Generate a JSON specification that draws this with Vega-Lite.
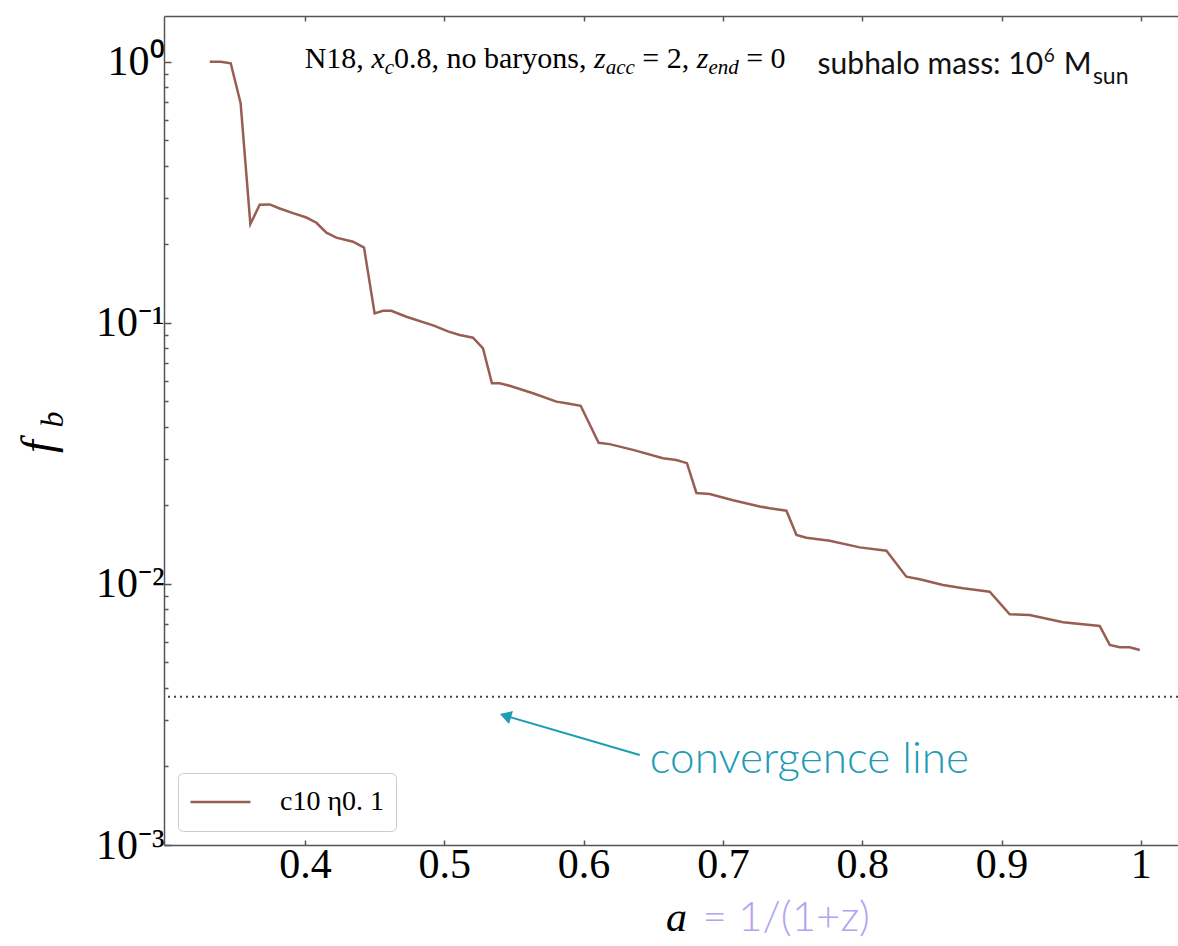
{
  "$schema": "https://vega.github.io/schema/vega-lite/v6.json",
  "width": 1014,
  "height": 829,
  "autosize": {"type": "none"},
  "padding": {"left": 164, "top": 16, "right": 0, "bottom": 101},
  "background": "white",
  "config": {
    "view": {"stroke": null},
    "axis": {
      "grid": false,
      "domainColor": "#555555",
      "tickColor": "#555555",
      "domainWidth": 1.5,
      "tickWidth": 1.5,
      "labelFont": "Liberation Serif",
      "labelColor": "black",
      "titleColor": "black",
      "labelFlush": false,
      "labelOverlap": false,
      "labelBound": false
    },
    "legend": {
      "orient": "bottom-left",
      "offset": 14,
      "padding": 11,
      "strokeColor": "#cccccc",
      "cornerRadius": 5,
      "fillColor": "white",
      "symbolType": "stroke",
      "symbolSize": 3600,
      "symbolStrokeWidth": 2.5,
      "clipHeight": 36,
      "labelFont": "Liberation Serif",
      "labelFontSize": 28,
      "labelOffset": 28,
      "labelColor": "black"
    }
  },
  "resolve": {"axis": {"x": "independent", "y": "independent"}},
  "layer": [
    {
      "data": {"values": [
        {"a": 0.3317, "f": 1.0, "series": "c10 η0. 1"},
        {"a": 0.3395, "f": 1.0, "series": "c10 η0. 1"},
        {"a": 0.3467, "f": 0.986, "series": "c10 η0. 1"},
        {"a": 0.3538, "f": 0.693, "series": "c10 η0. 1"},
        {"a": 0.3608, "f": 0.239, "series": "c10 η0. 1"},
        {"a": 0.3675, "f": 0.283, "series": "c10 η0. 1"},
        {"a": 0.3747, "f": 0.284, "series": "c10 η0. 1"},
        {"a": 0.3818, "f": 0.274, "series": "c10 η0. 1"},
        {"a": 0.3914, "f": 0.263, "series": "c10 η0. 1"},
        {"a": 0.401, "f": 0.253, "series": "c10 η0. 1"},
        {"a": 0.4082, "f": 0.2416, "series": "c10 η0. 1"},
        {"a": 0.4154, "f": 0.2214, "series": "c10 η0. 1"},
        {"a": 0.4225, "f": 0.2118, "series": "c10 η0. 1"},
        {"a": 0.4345, "f": 0.2045, "series": "c10 η0. 1"},
        {"a": 0.4424, "f": 0.194, "series": "c10 η0. 1"},
        {"a": 0.45, "f": 0.1087, "series": "c10 η0. 1"},
        {"a": 0.456, "f": 0.1112, "series": "c10 η0. 1"},
        {"a": 0.462, "f": 0.1112, "series": "c10 η0. 1"},
        {"a": 0.4728, "f": 0.1055, "series": "c10 η0. 1"},
        {"a": 0.4925, "f": 0.0975, "series": "c10 η0. 1"},
        {"a": 0.5031, "f": 0.0925, "series": "c10 η0. 1"},
        {"a": 0.5111, "f": 0.0898, "series": "c10 η0. 1"},
        {"a": 0.5206, "f": 0.0877, "series": "c10 η0. 1"},
        {"a": 0.5278, "f": 0.0798, "series": "c10 η0. 1"},
        {"a": 0.5342, "f": 0.0587, "series": "c10 η0. 1"},
        {"a": 0.5398, "f": 0.0587, "series": "c10 η0. 1"},
        {"a": 0.5469, "f": 0.0574, "series": "c10 η0. 1"},
        {"a": 0.5637, "f": 0.0537, "series": "c10 η0. 1"},
        {"a": 0.5805, "f": 0.0499, "series": "c10 η0. 1"},
        {"a": 0.5877, "f": 0.0492, "series": "c10 η0. 1"},
        {"a": 0.5979, "f": 0.0481, "series": "c10 η0. 1"},
        {"a": 0.6108, "f": 0.0347, "series": "c10 η0. 1"},
        {"a": 0.6187, "f": 0.0343, "series": "c10 η0. 1"},
        {"a": 0.6355, "f": 0.0326, "series": "c10 η0. 1"},
        {"a": 0.657, "f": 0.0303, "series": "c10 η0. 1"},
        {"a": 0.6666, "f": 0.0298, "series": "c10 η0. 1"},
        {"a": 0.6742, "f": 0.029, "series": "c10 η0. 1"},
        {"a": 0.681, "f": 0.0223, "series": "c10 η0. 1"},
        {"a": 0.6905, "f": 0.0221, "series": "c10 η0. 1"},
        {"a": 0.7073, "f": 0.0209, "series": "c10 η0. 1"},
        {"a": 0.7264, "f": 0.0198, "series": "c10 η0. 1"},
        {"a": 0.7336, "f": 0.01948, "series": "c10 η0. 1"},
        {"a": 0.7456, "f": 0.01907, "series": "c10 η0. 1"},
        {"a": 0.7528, "f": 0.01539, "series": "c10 η0. 1"},
        {"a": 0.76, "f": 0.01503, "series": "c10 η0. 1"},
        {"a": 0.7767, "f": 0.01464, "series": "c10 η0. 1"},
        {"a": 0.7982, "f": 0.0138, "series": "c10 η0. 1"},
        {"a": 0.8174, "f": 0.0134, "series": "c10 η0. 1"},
        {"a": 0.8317, "f": 0.01066, "series": "c10 η0. 1"},
        {"a": 0.8413, "f": 0.01041, "series": "c10 η0. 1"},
        {"a": 0.858, "f": 0.00991, "series": "c10 η0. 1"},
        {"a": 0.8724, "f": 0.00962, "series": "c10 η0. 1"},
        {"a": 0.8915, "f": 0.00934, "series": "c10 η0. 1"},
        {"a": 0.9059, "f": 0.00765, "series": "c10 η0. 1"},
        {"a": 0.9202, "f": 0.0076, "series": "c10 η0. 1"},
        {"a": 0.9442, "f": 0.00713, "series": "c10 η0. 1"},
        {"a": 0.9705, "f": 0.0069, "series": "c10 η0. 1"},
        {"a": 0.9777, "f": 0.00584, "series": "c10 η0. 1"},
        {"a": 0.9849, "f": 0.00572, "series": "c10 η0. 1"},
        {"a": 0.992, "f": 0.00572, "series": "c10 η0. 1"},
        {"a": 0.9992, "f": 0.00558, "series": "c10 η0. 1"}
      ]},
      "mark": {"type": "line", "strokeWidth": 2.5, "clip": true},
      "encoding": {
        "x": {
          "field": "a", "type": "quantitative",
          "scale": {"domain": [0.2988, 1.0267], "nice": false, "zero": false},
          "axis": {
            "orient": "bottom",
            "values": [0.4, 0.5, 0.6, 0.7, 0.8, 0.9, 1.0],
            "labelExpr": "datum.value > 0.99 ? '1' : format(datum.value, '.1f')",
            "tickSize": -5,
            "labelPadding": 4,
            "labelFontSize": 42,
            "title": "a",
            "titleFont": "Liberation Serif",
            "titleFontStyle": "italic",
            "titleFontWeight": "normal",
            "titleFontSize": 42,
            "titleX": 512,
            "titleY": 85,
            "titleAlign": "center",
            "titleBaseline": "alphabetic",
            "titleAngle": 0
          }
        },
        "y": {
          "field": "f", "type": "quantitative",
          "scale": {"type": "log", "domain": [0.001, 1.496], "nice": false},
          "axis": {
            "orient": "left",
            "values": [0.001, 0.01, 0.1, 1],
            "labelExpr": "datum.value > 0.5 ? '10⁰' : datum.value > 0.05 ? '10⁻¹' : datum.value > 0.005 ? '10⁻²' : '10⁻³'",
            "tickSize": -7,
            "labelPadding": 7,
            "labelFontSize": 42,
            "title": "f",
            "titleFont": "Liberation Serif",
            "titleFontStyle": "italic",
            "titleFontWeight": "normal",
            "titleFontSize": 46,
            "titleAngle": -90,
            "titleX": -112,
            "titleY": 430,
            "titleAlign": "center",
            "titleBaseline": "alphabetic"
          }
        },
        "color": {
          "field": "series", "type": "nominal",
          "scale": {"range": ["#985e54"]},
          "legend": {"title": null}
        }
      }
    },
    {
      "data": {"values": [{"f": 0.0037}]},
      "mark": {"type": "rule", "strokeDash": [2, 4], "strokeWidth": 2, "color": "#444444"},
      "encoding": {
        "y": {"field": "f", "type": "quantitative", "scale": {"type": "log", "domain": [0.001, 1.496], "nice": false}, "axis": null}
      }
    },
    {
      "data": {"values": [{"a": 0.6403, "f": 0.00221}, {"a": 0.5445, "f": 0.00312}]},
      "mark": {"type": "line", "color": "#1e9bb5", "strokeWidth": 2},
      "encoding": {
        "x": {
          "field": "a", "type": "quantitative",
          "scale": {"domain": [0.2988, 1.0267], "nice": false, "zero": false},
          "axis": {
            "orient": "top",
            "values": [0.4, 0.5, 0.6, 0.7, 0.8, 0.9, 1.0],
            "labels": false,
            "tickSize": -5,
            "title": "= 1/(1+z)",
            "titleFont": "Lato",
            "titleFontWeight": 300,
            "titleFontSize": 42,
            "titleColor": "#b1a3f2",
            "titleX": 538,
            "titleY": 914,
            "titleAlign": "left",
            "titleBaseline": "alphabetic",
            "titleAngle": 0
          }
        },
        "y": {
          "field": "f", "type": "quantitative",
          "scale": {"type": "log", "domain": [0.001, 1.496], "nice": false},
          "axis": {
            "orient": "left",
            "values": [0.002, 0.003, 0.004, 0.005, 0.006, 0.007, 0.008, 0.009, 0.02, 0.03, 0.04, 0.05, 0.06, 0.07, 0.08, 0.09, 0.2, 0.3, 0.4, 0.5, 0.6, 0.7, 0.8, 0.9],
            "labels": false,
            "domain": false,
            "tickSize": -4,
            "title": "b",
            "titleFont": "Liberation Serif",
            "titleFontStyle": "italic",
            "titleFontWeight": "normal",
            "titleFontSize": 32,
            "titleAngle": -90,
            "titleX": -102,
            "titleY": 403,
            "titleAlign": "center",
            "titleBaseline": "alphabetic"
          }
        }
      }
    },
    {
      "data": {"values": [{"a": 0.5439, "f": 0.003125}]},
      "mark": {"type": "point", "shape": "triangle-up", "angle": 287, "filled": true, "color": "#1e9bb5", "size": 180, "opacity": 1},
      "encoding": {
        "x": {"field": "a", "type": "quantitative", "scale": {"domain": [0.2988, 1.0267], "nice": false, "zero": false}, "axis": null},
        "y": {"field": "f", "type": "quantitative", "scale": {"type": "log", "domain": [0.001, 1.496], "nice": false}, "axis": null}
      }
    },
    {
      "data": {"values": [
        {"a": 0.3998, "f": 0.946, "t": "N18,"},
        {"a": 0.4639, "f": 0.946, "t": "0.8, no baryons,"},
        {"a": 0.6421, "f": 0.946, "t": "= 2,"},
        {"a": 0.7167, "f": 0.946, "t": "= 0"}
      ]},
      "mark": {"type": "text", "align": "left", "baseline": "alphabetic", "font": "Liberation Serif", "fontSize": 30, "color": "black"},
      "encoding": {
        "x": {"field": "a", "type": "quantitative", "scale": {"domain": [0.2988, 1.0267], "nice": false, "zero": false}, "axis": null},
        "y": {"field": "f", "type": "quantitative", "scale": {"type": "log", "domain": [0.001, 1.496], "nice": false}, "axis": null},
        "text": {"field": "t"}
      }
    },
    {
      "data": {"values": [
        {"a": 0.4477, "f": 0.946, "t": "x"},
        {"a": 0.6075, "f": 0.946, "t": "z"},
        {"a": 0.6812, "f": 0.946, "t": "z"}
      ]},
      "mark": {"type": "text", "align": "left", "baseline": "alphabetic", "font": "Liberation Serif", "fontStyle": "italic", "fontSize": 30, "color": "black"},
      "encoding": {
        "x": {"field": "a", "type": "quantitative", "scale": {"domain": [0.2988, 1.0267], "nice": false, "zero": false}, "axis": null},
        "y": {"field": "f", "type": "quantitative", "scale": {"type": "log", "domain": [0.001, 1.496], "nice": false}, "axis": null},
        "text": {"field": "t"}
      }
    },
    {
      "data": {"values": [
        {"a": 0.4572, "f": 0.897, "t": "c"},
        {"a": 0.6159, "f": 0.897, "t": "acc"},
        {"a": 0.6896, "f": 0.897, "t": "end"}
      ]},
      "mark": {"type": "text", "align": "left", "baseline": "alphabetic", "font": "Liberation Serif", "fontStyle": "italic", "fontSize": 21, "color": "black"},
      "encoding": {
        "x": {"field": "a", "type": "quantitative", "scale": {"domain": [0.2988, 1.0267], "nice": false, "zero": false}, "axis": null},
        "y": {"field": "f", "type": "quantitative", "scale": {"type": "log", "domain": [0.001, 1.496], "nice": false}, "axis": null},
        "text": {"field": "t"}
      }
    },
    {
      "data": {"values": [
        {"a": 0.768, "f": 0.897, "t": "subhalo mass: 10"},
        {"a": 0.9446, "f": 0.897, "t": "M"}
      ]},
      "mark": {"type": "text", "align": "left", "baseline": "alphabetic", "font": "Lato", "fontSize": 30, "color": "#111111"},
      "encoding": {
        "x": {"field": "a", "type": "quantitative", "scale": {"domain": [0.2988, 1.0267], "nice": false, "zero": false}, "axis": null},
        "y": {"field": "f", "type": "quantitative", "scale": {"type": "log", "domain": [0.001, 1.496], "nice": false}, "axis": null},
        "text": {"field": "t"}
      }
    },
    {
      "data": {"values": [{"a": 0.9303, "f": 0.997, "t": "6"}]},
      "mark": {"type": "text", "align": "left", "baseline": "alphabetic", "font": "Lato", "fontSize": 19, "color": "#111111"},
      "encoding": {
        "x": {"field": "a", "type": "quantitative", "scale": {"domain": [0.2988, 1.0267], "nice": false, "zero": false}, "axis": null},
        "y": {"field": "f", "type": "quantitative", "scale": {"type": "log", "domain": [0.001, 1.496], "nice": false}, "axis": null},
        "text": {"field": "t"}
      }
    },
    {
      "data": {"values": [{"a": 0.9656, "f": 0.822, "t": "sun"}]},
      "mark": {"type": "text", "align": "left", "baseline": "alphabetic", "font": "Lato", "fontSize": 23, "color": "#111111"},
      "encoding": {
        "x": {"field": "a", "type": "quantitative", "scale": {"domain": [0.2988, 1.0267], "nice": false, "zero": false}, "axis": null},
        "y": {"field": "f", "type": "quantitative", "scale": {"type": "log", "domain": [0.001, 1.496], "nice": false}, "axis": null},
        "text": {"field": "t"}
      }
    },
    {
      "data": {"values": [{"a": 0.6475, "f": 0.001888, "t": "convergence line"}]},
      "mark": {"type": "text", "align": "left", "baseline": "alphabetic", "font": "Lato", "fontWeight": 300, "fontSize": 44, "color": "#1e9bb5"},
      "encoding": {
        "x": {"field": "a", "type": "quantitative", "scale": {"domain": [0.2988, 1.0267], "nice": false, "zero": false}, "axis": null},
        "y": {"field": "f", "type": "quantitative", "scale": {"type": "log", "domain": [0.001, 1.496], "nice": false}, "axis": null},
        "text": {"field": "t"}
      }
    }
  ]
}
